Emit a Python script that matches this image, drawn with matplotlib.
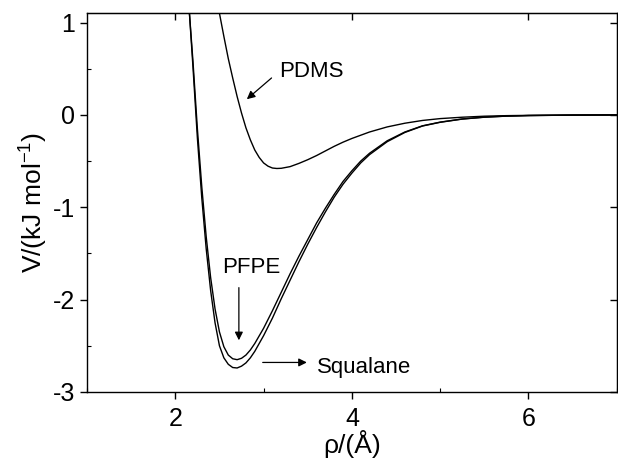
import matplotlib
matplotlib.use("Agg")
import matplotlib.pyplot as plt
from matplotlib.ticker import MultipleLocator

plt.rcParams['font.family'] = ['Liberation Sans', 'DejaVu Sans']
plt.rcParams['axes.unicode_minus'] = False

# values
pdms_x = [2.50, 2.55, 2.60, 2.65, 2.70, 2.75, 2.80, 2.85, 2.90, 2.95, 3.00, 3.05, 3.10,
          3.15, 3.20, 3.30, 3.40, 3.50, 3.60, 3.70, 3.80, 3.90, 4.00, 4.20, 4.40, 4.60,
          4.80, 5.00, 5.25, 5.50, 5.75, 6.00, 6.50, 7.00]
pdms_y = [1.10, 0.85, 0.61, 0.40, 0.20, 0.02, -0.14, -0.27, -0.38, -0.46, -0.52, -0.555,
          -0.575, -0.58, -0.578, -0.56, -0.525, -0.485, -0.44, -0.39, -0.34, -0.295,
          -0.255, -0.185, -0.13, -0.09, -0.06, -0.04, -0.025, -0.014, -0.008, -0.005,
          -0.002, -0.001]

well_x = [2.16, 2.20, 2.25, 2.30, 2.35, 2.40, 2.45, 2.50, 2.55, 2.60, 2.65, 2.70, 2.75,
          2.80, 2.85, 2.90, 3.00, 3.10, 3.20, 3.30, 3.40, 3.50, 3.60, 3.70, 3.80, 3.90,
          4.00, 4.10, 4.20, 4.40, 4.60, 4.80, 5.00, 5.25, 5.50, 5.75, 6.00, 6.50, 7.00]
pfpe_y = [1.10, 0.58, -0.15, -0.78, -1.32, -1.76, -2.10, -2.35, -2.51, -2.60, -2.64,
          -2.65, -2.635, -2.60, -2.545, -2.475, -2.31, -2.12, -1.92, -1.72, -1.53, -1.35,
          -1.17, -1.01, -0.86, -0.72, -0.605, -0.50, -0.415, -0.28, -0.185, -0.118,
          -0.078, -0.044, -0.024, -0.013, -0.007, -0.002, 0.0]
squalane_y = [1.10, 0.52, -0.25, -0.90, -1.45, -1.90, -2.25, -2.50, -2.63, -2.70, -2.735,
              -2.74, -2.72, -2.685, -2.63, -2.56, -2.39, -2.20, -1.99, -1.79, -1.59, -1.40,
              -1.22, -1.05, -0.89, -0.75, -0.63, -0.52, -0.43, -0.29, -0.19, -0.12,
              -0.08, -0.045, -0.025, -0.013, -0.007, -0.002, 0.0]

fig = plt.figure(figsize=(6.18, 4.67), dpi=100)
ax = fig.add_axes([0.1408, 0.1606, 0.8572, 0.8109])

ax.plot(pdms_x, pdms_y, color='black', lw=1.0)
ax.plot(well_x, pfpe_y, color='black', lw=1.0)
ax.plot(well_x, squalane_y, color='black', lw=1.0)

ax.set_xlim(1, 7)
ax.set_ylim(-3, 1.1)
ax.xaxis.set_major_locator(MultipleLocator(2))
ax.xaxis.set_minor_locator(MultipleLocator(1))
ax.yaxis.set_major_locator(MultipleLocator(1))
ax.yaxis.set_minor_locator(MultipleLocator(0.5))
ax.tick_params(which='major', direction='out', length=5, width=1, labelsize=18)
ax.tick_params(axis='x', which='major', pad=6)
ax.tick_params(which='minor', direction='in', length=3, width=0.8)
for s in ax.spines.values():
    s.set_linewidth(1.0)

# inward ticks on top and right
top = ax.secondary_xaxis('top')
top.xaxis.set_major_locator(MultipleLocator(2))
top.tick_params(direction='in', length=5, width=1, labeltop=False)
right = ax.secondary_yaxis('right')
right.yaxis.set_major_locator(MultipleLocator(1))
right.tick_params(direction='in', length=5, width=1, labelright=False)

ax.set_xlabel('ρ/(Å)', fontsize=19, labelpad=-1)
ax.set_ylabel('V/(kJ mol$\\mathregular{^{-1}}$)', fontsize=19, labelpad=2)

arr = dict(arrowstyle='-|>', color='black', lw=0.9, mutation_scale=12, shrinkA=0, shrinkB=0)
ax.annotate('', xy=(2.81, 0.17), xytext=(3.09, 0.40), arrowprops=arr)
ax.text(3.18, 0.47, 'PDMS', fontsize=16, va='center', ha='left')
ax.annotate('', xy=(2.72, -2.44), xytext=(2.72, -1.87), arrowprops=arr)
ax.text(2.525, -1.65, 'PFPE', fontsize=16, va='center', ha='left')
ax.annotate('', xy=(3.49, -2.68), xytext=(2.99, -2.68), arrowprops=arr)
ax.text(3.60, -2.73, 'Squalane', fontsize=16, va='center', ha='left')

fig.savefig('out.png', dpi=100)
